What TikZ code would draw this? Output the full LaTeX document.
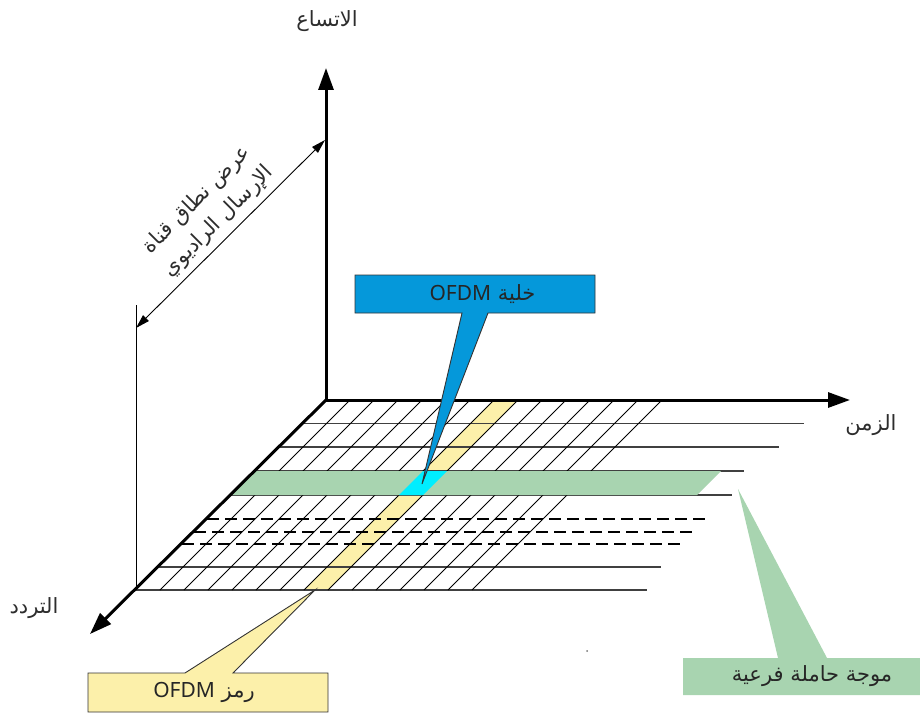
\documentclass[tikz,border=0pt]{standalone}
\usepackage{fontspec}
\setmainfont{Noto Sans}
\newfontfamily\arabicfont[Script=Arabic]{DejaVu Sans}
\newfontfamily\latinfont{Noto Sans}
\TeXXeTstate=1
\usetikzlibrary{arrows.meta}
\pgfdeclarelayer{labels}
\pgfsetlayers{main,labels}

\definecolor{cellblue}{RGB}{5,152,218}
\definecolor{cellcyan}{RGB}{0,238,255}
\definecolor{symyellow}{RGB}{252,240,170}
\definecolor{subgreen}{RGB}{168,212,176}
\definecolor{labelgray}{RGB}{45,45,45}

\begin{document}
\begin{tikzpicture}[x=1pt,y=-1pt,
  rowline/.style={line width=1.2pt, draw=black!75},
  dashrow/.style={line width=2pt, dash pattern=on 12pt off 6pt},
  diag/.style={line width=0.9pt},
  axispair/.style={line width=3pt, line join=miter,
    {Triangle[length=22pt,width=15pt]}-{Triangle[length=22pt,width=15pt]}},
  axis/.style={line width=3pt, -{Triangle[length=22pt,width=15pt]}},
  bwarrow/.style={line width=0.9pt,
    {Triangle[length=14pt,width=8pt]}-{Triangle[length=14pt,width=8pt]}},
  axislabel/.style={font=\arabicfont\fontsize{21}{30}\selectfont, text=labelgray, inner sep=0pt},
  calltext/.style={font=\fontsize{21}{24}\selectfont, text=black!85, inner sep=0pt, outer sep=0pt},
  callframe/.style={draw=black!80, line width=0.9pt}
]
\useasboundingbox (0,0) rectangle (920,714);

% axes origin and tips
\coordinate (O) at (326,400);
\coordinate (ampTip) at (326,68);
\coordinate (timeTip) at (850,400);
\coordinate (freqTip) at (90,634);

% one OFDM symbol (column of the grid)
\fill[symyellow] (494,400) -- (518,400) -- (328,590) -- (304,590) -- cycle;

% subcarrier rows
\foreach \y/\xe in {423.5/804, 447/779, 471/744, 495/732, 567/661, 590/647}
  \draw[rowline] ({726-\y},\y) -- (\xe,\y);
\foreach \y/\xe in {519/710, 532/696, 544/684}
  \draw[dashrow] ({726-\y},\y) -- (\xe,\y);

% symbol boundaries
\foreach \k in {1,...,14}
  \draw[diag] ({326+24*\k},400) -- ({136+24*\k},590);

% one subcarrier and the cell where it meets the symbol
\fill[subgreen] (255,471) -- (721,471) -- (697,495) -- (231,495) -- cycle;
\fill[cellcyan] (423,471) -- (447,471) -- (423,495) -- (399,495) -- cycle;

% axes
\draw[axispair] (ampTip) -- (O) -- (timeTip);
\draw[axis] (O) -- (freqTip);

% channel bandwidth marker
\coordinate (bwTop) at (136,305);
\coordinate (gridBL) at (136,590);
\coordinate (bwLow) at (136,328);
\coordinate (bwHigh) at (325,140);
\draw[line width=1pt] (bwTop) -- (gridBL);
\draw[bwarrow] (bwLow) -- (bwHigh);

\fill[black!55] (587,651) circle[radius=1pt];

% axis labels
\node[axislabel] (ampLabel) at (327,21) {\beginR الاتساع\endR};
\node[axislabel] (timeLabel) at (871,425) {\beginR الزمن\endR};
\node[axislabel] (freqLabel) at (34,608) {\beginR التردد\endR};
\node[axislabel, rotate=45, align=center] (bwLabel) at (208,211)
  {\beginR عرض نطاق قناة\endR\\\beginR الإرسال الراديوي\endR};

% callout texts
\begin{pgfonlayer}{labels}
\node[calltext, minimum width=240pt, minimum height=38pt] (cell) at (475,294)
  {\hspace*{15pt}{\arabicfont\beginR خلية \beginL\latinfont OFDM\endL\endR}};
\node[calltext, minimum width=240pt, minimum height=39pt] (sym) at (208,692.5)
  {{\arabicfont\beginR رمز \beginL\latinfont OFDM\endL\endR}\hspace*{8pt}};
\node[calltext, minimum width=258pt, minimum height=37pt] (sub) at (812,676.5)
  {\arabicfont\beginR موجة حاملة فرعية\endR};
\end{pgfonlayer}

% callout frames
\coordinate (cellTip) at (422,484);
\coordinate (symTip) at (315,590);
\coordinate (subTip) at (738,489);
\draw[callframe, fill=cellblue] (cell.north west) -- (cell.north east) -- (cell.south east)
  -- ([xshift=13pt]cell.south) -- (cellTip) -- ([xshift=-13pt]cell.south)
  -- (cell.south west) -- cycle;
\draw[callframe, fill=symyellow] (sym.north west) -- ([xshift=-23pt]sym.north)
  -- (symTip) -- ([xshift=25pt]sym.north) -- (sym.north east) -- (sym.south east)
  -- (sym.south west) -- cycle;
\fill[subgreen] (sub.north west) -- ([xshift=-34pt]sub.north)
  -- (subTip) -- ([xshift=15pt]sub.north) -- (sub.north east)
  -- (sub.south east) -- (sub.south west) -- cycle;
\end{tikzpicture}
\end{document}
